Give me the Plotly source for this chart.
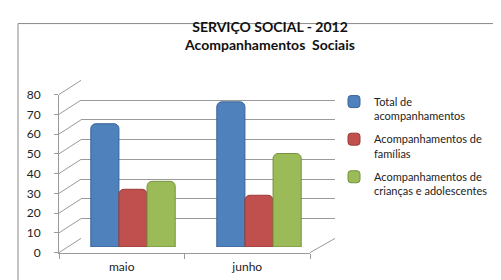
import plotly.graph_objects as go

W, H = 501, 280

categories = ["maio", "junho"]
series_names = [
    "Total de<br>acompanhamentos",
    "Acompanhamentos de<br>famílias",
    "Acompanhamentos de<br>crianças e adolescentes",
]
total = [62, 73]
familias = [29, 26]
criancas = [33, 47]
y_ticks = [0, 10, 20, 30, 40, 50, 60, 70, 80]

colors = ["#4F81BD", "#C0504D", "#9BBB59"]
edges = ["#3A6596", "#9A3B38", "#76923C"]

def px(x):
    return x / W

def py(y):
    return 1 - y / H

# domains in pixels
BACK_X, BACK_Y = (73, 327), (68, 235)
FRONT_X, FRONT_Y = (51, 302), (83, 250)
BAR_X, BAR_Y = (62, 314), (76, 244)

fig = go.Figure()

fig.add_trace(go.Scatter(x=categories, y=[0, 0], mode="markers", marker=dict(opacity=0),
                         showlegend=False, hoverinfo="skip", xaxis="x", yaxis="y"))
fig.add_trace(go.Scatter(x=categories, y=[0, 0], mode="markers", marker=dict(opacity=0),
                         showlegend=False, hoverinfo="skip", xaxis="x2", yaxis="y2"))
for i, (name, vals, c, e) in enumerate(zip(series_names, [total, familias, criancas], colors, edges)):
    fig.add_trace(go.Bar(x=categories, y=vals, name=name, legendgroup="g%d" % i,
                         marker=dict(color=c, line=dict(color=e, width=1), cornerradius=5),
                         xaxis="x3", yaxis="y3"))

grid = "#9a9a9a"
fig.update_layout(
    width=W, height=H,
    margin=dict(l=0, r=0, t=0, b=0),
    paper_bgcolor="white", plot_bgcolor="rgba(0,0,0,0)",
    barmode="group", bargap=0.33, bargroupgap=0,
    font=dict(family="Lato, Open Sans, sans-serif", size=11, color="#222"),
    title=dict(text="<b>SERVIÇO SOCIAL - 2012<br>Acompanhamentos  Sociais</b>",
               x=px(262), xanchor="center", y=py(24), yanchor="top",
               font=dict(size=14, color="#111")),
    xaxis=dict(domain=[px(BACK_X[0]), px(BACK_X[1])], anchor="y", type="category",
               range=[-0.5, 1.5], showticklabels=False, showgrid=False, zeroline=False, showline=False),
    yaxis=dict(domain=[py(BACK_Y[1]), py(BACK_Y[0])], anchor="x", range=[-0.05, 80.05],
               tickvals=y_ticks, showticklabels=False, showgrid=True, gridcolor=grid, gridwidth=1,
               zeroline=False, showline=False),
    xaxis2=dict(domain=[px(FRONT_X[0]), px(FRONT_X[1])], anchor="y2", type="category",
                range=[-0.5, 1.5], showgrid=False, zeroline=False, showline=True, linecolor=grid,
                ticks="outside", tickson="boundaries", ticklen=5, tickcolor=grid,
                ticklabelstandoff=3, tickfont=dict(size=12, color="#222")),
    yaxis2=dict(domain=[py(FRONT_Y[1]), py(FRONT_Y[0])], anchor="x2", range=[0, 80],
                tickvals=y_ticks, showgrid=False, zeroline=False, showline=True, linecolor=grid,
                ticks="outside", ticklen=4, tickcolor=grid, ticklabelstandoff=11,
                tickfont=dict(size=12, color="#222")),
    xaxis3=dict(domain=[px(BAR_X[0]), px(BAR_X[1])], anchor="y3", type="category",
                range=[-0.5, 1.5], showticklabels=False, showgrid=False, zeroline=False, showline=False),
    yaxis3=dict(domain=[py(BAR_Y[1]), py(BAR_Y[0])], anchor="x3", range=[0, 80],
                showticklabels=False, showgrid=False, zeroline=False, showline=False),
    legend=dict(x=px(326), y=py(76), xanchor="left", yanchor="top", valign="top",
                font=dict(size=11, color="#222"), tracegroupgap=6, itemwidth=30,
                bgcolor="rgba(0,0,0,0)"),
)

shapes = []
span = (FRONT_Y[1] - FRONT_Y[0]) / 80.0
for v in y_ticks:
    yf = FRONT_Y[1] - v * span
    yb = BACK_Y[1] - v * span
    shapes.append(dict(type="line", xref="paper", yref="paper",
                       x0=px(FRONT_X[0]), y0=py(yf), x1=px(BACK_X[0]), y1=py(yb),
                       line=dict(color=grid, width=1), layer="below"))
shapes.append(dict(type="line", xref="paper", yref="paper",
                   x0=px(FRONT_X[1]), y0=py(FRONT_Y[1]), x1=px(BACK_X[1]), y1=py(BACK_Y[1]),
                   line=dict(color=grid, width=1), layer="below"))
shapes.append(dict(type="rect", xref="paper", yref="paper",
                   x0=px(10), y0=py(8), x1=1.02, y1=-0.02,
                   line=dict(color="#8a8a8a", width=1), layer="below"))
fig.update_layout(shapes=shapes)

fig.write_html("out.html")
